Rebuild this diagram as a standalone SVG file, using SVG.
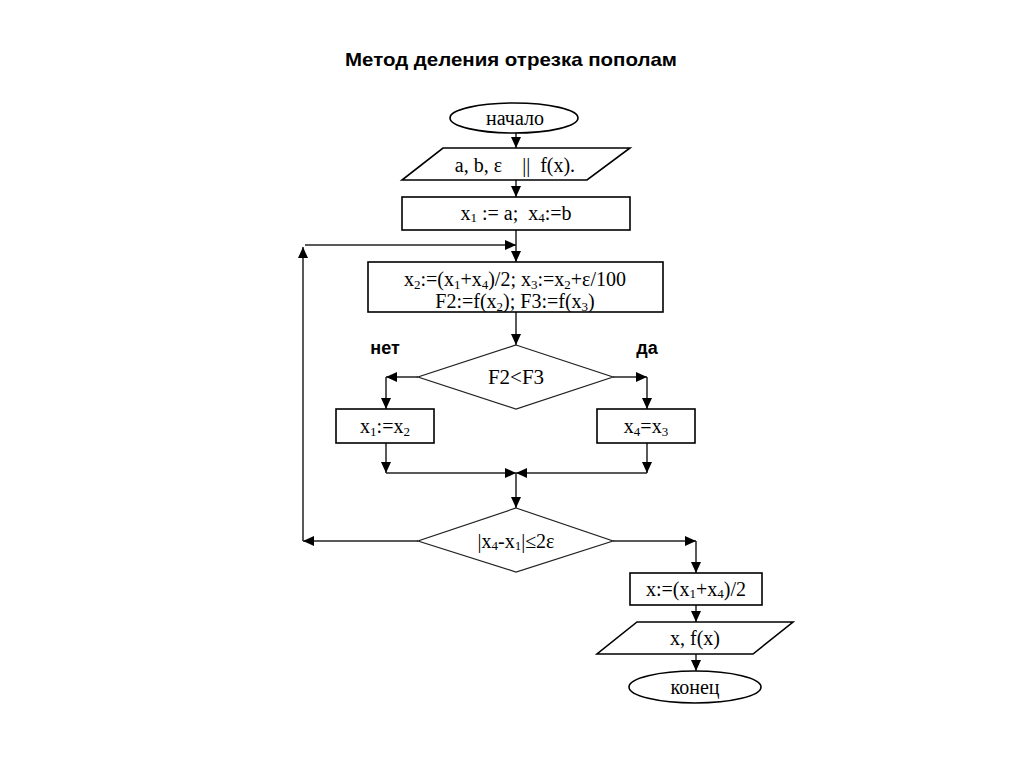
<svg xmlns="http://www.w3.org/2000/svg" width="1024" height="767" viewBox="0 0 1024 767">
<style>
.sh{fill:#fff;stroke:#000;stroke-width:1.6}
.dm{fill:#fff;stroke:#222;stroke-width:1.2}
.t{font-family:"Liberation Serif","Times New Roman",serif;font-size:20px;fill:#000;text-anchor:middle}
.lb{font-family:"Liberation Sans",Arial,sans-serif;font-weight:bold;font-size:18px;fill:#000;text-anchor:middle}
.s{font-size:13px}
.c line{stroke:#222;stroke-width:1.5;marker-end:url(#ah)}
</style>
<defs>
<marker id="ah" markerUnits="userSpaceOnUse" markerWidth="12" markerHeight="10" refX="11" refY="5" orient="auto">
<path d="M0,0 L11,5 L0,10 Z" fill="#000"/>
</marker>
</defs>
<rect width="1024" height="767" fill="#fff"/>
<text x="511" y="66" textLength="332" lengthAdjust="spacingAndGlyphs" style="font-family:'Liberation Sans',Arial,sans-serif;font-weight:bold;font-size:19px;text-anchor:middle">Метод деления отрезка пополам</text>

<g class="c" id="connectors">
<line x1="516" y1="133" x2="516" y2="148"/>
<line x1="516" y1="180" x2="516" y2="197"/>
<line x1="516" y1="230" x2="516" y2="262"/>
<line x1="516" y1="312" x2="516" y2="345"/>
<line x1="418" y1="377" x2="386" y2="377"/>
<line x1="386" y1="377" x2="386" y2="409"/>
<line x1="613" y1="377" x2="647" y2="377"/>
<line x1="647" y1="377" x2="647" y2="409"/>
<line x1="386" y1="443" x2="386" y2="473"/>
<line x1="386" y1="473" x2="516" y2="473"/>
<line x1="647" y1="443" x2="647" y2="473"/>
<line x1="647" y1="473" x2="516" y2="473"/>
<line x1="516" y1="473" x2="516" y2="508"/>
<line x1="418" y1="541" x2="303" y2="541"/>
<line x1="303" y1="541" x2="303" y2="247"/>
<line x1="305" y1="245" x2="516" y2="245"/>
<line x1="613" y1="541" x2="696" y2="541"/>
<line x1="696" y1="541" x2="696" y2="573"/>
<line x1="696" y1="605" x2="696" y2="622"/>
<line x1="696" y1="654" x2="696" y2="671"/>
</g>

<g id="start">
<ellipse class="sh" cx="514" cy="118" rx="64" ry="15"/>
<text class="t" x="515" y="125">начало</text>
</g>
<g id="input">
<polygon class="sh" points="443,148 630,148 587,180 402,180"/>
<text class="t" x="515" y="172" xml:space="preserve">a, b, ε    ||  f(x).</text>
</g>
<g id="init">
<rect class="sh" x="402" y="197" width="228" height="33"/>
<text class="t" x="516" y="220" xml:space="preserve">x<tspan class="s" dy="2">1</tspan><tspan dy="-2"> := a;  x</tspan><tspan class="s" dy="2">4</tspan><tspan dy="-2">:=b</tspan></text>
</g>
<g id="compute">
<rect class="sh" x="368" y="262" width="295" height="50"/>
<text class="t" x="515" y="286">x<tspan class="s" dy="3">2</tspan><tspan dy="-3">:=(x</tspan><tspan class="s" dy="3">1</tspan><tspan dy="-3">+x</tspan><tspan class="s" dy="3">4</tspan><tspan dy="-3">)/2; x</tspan><tspan class="s" dy="3">3</tspan><tspan dy="-3">:=x</tspan><tspan class="s" dy="3">2</tspan><tspan dy="-3">+ε/100</tspan></text>
<text class="t" x="515" y="308">F2:=f(x<tspan class="s" dy="3">2</tspan><tspan dy="-3">); F3:=f(x</tspan><tspan class="s" dy="3">3</tspan><tspan dy="-3">)</tspan></text>
</g>
<g id="cond1">
<polygon class="dm" points="516,345 613,377 516,409 418,377"/>
<text class="t" x="516" y="384" style="font-size:21px">F2&lt;F3</text>
<text class="lb" x="385" y="354">нет</text>
<text class="lb" x="647" y="354">да</text>
</g>
<g id="left">
<rect class="sh" x="336" y="409" width="98" height="34"/>
<text class="t" x="385" y="433">x<tspan class="s" dy="3">1</tspan><tspan dy="-3">:=x</tspan><tspan class="s" dy="3">2</tspan></text>
</g>
<g id="right">
<rect class="sh" x="597" y="409" width="98" height="34"/>
<text class="t" x="646" y="433">x<tspan class="s" dy="3">4</tspan><tspan dy="-3">=x</tspan><tspan class="s" dy="3">3</tspan></text>
</g>
<g id="cond2">
<polygon class="dm" points="516,508 613,541 516,572 418,541"/>
<text class="t" x="516" y="548">|x<tspan class="s" dy="2">4</tspan><tspan dy="-2">-x</tspan><tspan class="s" dy="2">1</tspan><tspan dy="-2">|≤2ε</tspan></text>
</g>
<g id="result">
<rect class="sh" x="630" y="573" width="132" height="32"/>
<text class="t" x="696" y="596">x:=(x<tspan class="s" dy="2">1</tspan><tspan dy="-2">+x</tspan><tspan class="s" dy="2">4</tspan><tspan dy="-2">)/2</tspan></text>
</g>
<g id="output">
<polygon class="sh" points="637,622 793,622 753,654 597,654"/>
<text class="t" x="695" y="645">x, f(x)</text>
</g>
<g id="end">
<ellipse class="sh" cx="695" cy="687" rx="66" ry="16"/>
<text class="t" x="695" y="694">конец</text>
</g>
</svg>
